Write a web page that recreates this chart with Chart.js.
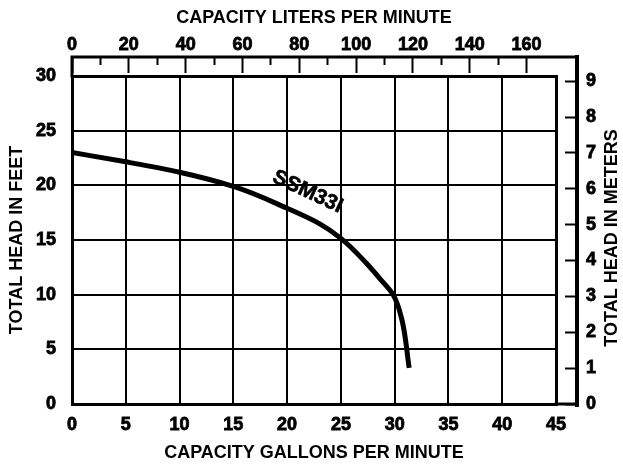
<!DOCTYPE html>
<html><head><meta charset="utf-8">
<script src="https://cdn.jsdelivr.net/npm/chart.js@4.4.1/dist/chart.umd.min.js"></script>
<style>html,body{margin:0;padding:0;background:#fff}#wrap{width:623px;height:464px}</style>
</head><body><div id="wrap"><canvas id="c" width="623" height="464"></canvas></div>
<script>
// ---- data ----
const flowGpm = [0, 5, 10, 15, 20, 23, 25, 27.35, 28.6, 29.86, 30.65, 31.35];
const headFt  = [23, 22.15, 21.2, 19.9, 17.9, 16.5, 15.15, 12.9, 11.5, 10.0, 7.8, 3.3];
const gpmTicks   = [0, 5, 10, 15, 20, 25, 30, 35, 40, 45];
const feetTicks  = [0, 5, 10, 15, 20, 25, 30];
const literTicks = [0, 10, 20, 30, 40, 50, 60, 70, 80, 90, 100, 110, 120, 130, 140, 150, 160];
const meterTicks = [0, 1, 2, 3, 4, 5, 6, 7, 8, 9];
const modelName = 'SSM33I';
const titles = {
  bottom: 'CAPACITY GALLONS PER MINUTE',
  top: 'CAPACITY LITERS PER MINUTE',
  left: 'TOTAL HEAD IN FEET',
  right: 'TOTAL HEAD IN METERS'
};
const L_PER_GAL = 3.785411784;
const M_PER_FT = 0.3048;

// ---- styling ----
const FAM = '"Liberation Sans", Arial, Helvetica, sans-serif';
const tickFont = {family: FAM, size: 18, weight: 'bold'};
const titleFont = {family: FAM, size: 18, weight: 'bold'};
const TOP_STRIP = 19, RIGHT_STRIP = 21;
const tickText = {color: '#000', font: tickFont, textStrokeColor: '#000', textStrokeWidth: 0.8, autoSkip: false, maxRotation: 0};

const frame = {
  id: 'frame',
  afterDraw(chart) {
    const ctx = chart.ctx, a = chart.chartArea;
    const top = a.top - TOP_STRIP, right = a.right + RIGHT_STRIP;
    ctx.save();
    ctx.strokeStyle = '#000';
    ctx.lineCap = 'square';
    ctx.lineWidth = 3;
    ctx.beginPath();
    ctx.moveTo(a.left, a.top); ctx.lineTo(a.left, top);
    ctx.lineTo(right, top);
    ctx.moveTo(a.right, a.bottom); ctx.lineTo(right, a.bottom);
    ctx.stroke();
    ctx.lineWidth = 4;
    ctx.beginPath();
    ctx.moveTo(right, top); ctx.lineTo(right, a.bottom + 1);
    ctx.stroke();
    // right title (reads bottom to top)
    ctx.fillStyle = '#000';
    ctx.font = 'bold 18px ' + FAM;
    ctx.textAlign = 'center'; ctx.textBaseline = 'middle';
    ctx.translate(612, (a.top + a.bottom) / 2 - 2);
    ctx.rotate(-Math.PI / 2);
    ctx.fillText(titles.right, 0, 0);
    ctx.restore();
    // curve label along the curve
    const xs = chart.scales.x, ys = chart.scales.y;
    ctx.save();
    ctx.fillStyle = '#000';
    ctx.strokeStyle = '#000';
    ctx.lineWidth = 0.6;
    ctx.font = 'bold 21px ' + FAM;
    ctx.textAlign = 'center'; ctx.textBaseline = 'middle';
    ctx.translate(xs.getPixelForValue(21.9), ys.getPixelForValue(19.4));
    ctx.rotate(25 * Math.PI / 180);
    ctx.fillText(modelName, 0, 0);
    ctx.strokeText(modelName, 0, 0);
    ctx.restore();
  }
};

new Chart(document.getElementById('c'), {
  type: 'scatter',
  data: {
    datasets: [{
      data: flowGpm.map((g, i) => ({x: g, y: headFt[i]})),
      showLine: true,
      borderColor: '#000',
      borderWidth: 5,
      borderCapStyle: 'butt',
      borderJoinStyle: 'round',
      pointRadius: 0,
      cubicInterpolationMode: 'monotone',
      xAxisID: 'x', yAxisID: 'y'
    }]
  },
  options: {
    indexAxis: 'y',
    responsive: false,
    devicePixelRatio: 1,
    animation: false,
    layout: {padding: 0},
    plugins: {legend: {display: false}, tooltip: {enabled: false}},
    scales: {
      x: {
        type: 'linear', position: 'bottom', min: 0, max: 45,
        afterBuildTicks: s => { s.ticks = gpmTicks.map(v => ({value: v})); },
        afterFit: s => { s.height = 60; },
        grid: {color: '#000', lineWidth: c => (c.index === 0 || c.index === gpmTicks.length - 1) ? 3 : 2, drawTicks: false},
        border: {color: '#000', width: 3},
        ticks: {...tickText, padding: 10},
        title: {display: true, text: titles.bottom, color: '#000', font: titleFont, padding: {top: 0, bottom: 0}}
      },
      x2: {
        type: 'linear', position: 'top', axis: 'x', min: 0, max: 45 * L_PER_GAL,
        afterBuildTicks: s => { s.ticks = literTicks.map(v => ({value: v})); },
        afterFit: s => { s.height = 76; },
        grid: {
          drawOnChartArea: false, color: '#000', tickColor: '#000', tickWidth: 2,
          tickLength: TOP_STRIP,
          tickBorderDash: c => (c.tick && c.tick.value % 20 === 0) ? [16, 100] : [8, 100]
        },
        border: {color: '#000', width: 3},
        ticks: {...tickText, padding: 1, callback: v => (v % 20 === 0 ? String(v) : '')},
        title: {display: true, text: titles.top, color: '#000', font: titleFont, padding: {top: 7, bottom: 0}}
      },
      y: {
        type: 'linear', position: 'left', min: 0, max: 30,
        afterBuildTicks: s => { s.ticks = feetTicks.map(v => ({value: v})); },
        afterFit: s => { s.width = 72; },
        grid: {color: '#000', lineWidth: c => (c.index === 0 || c.index === feetTicks.length - 1) ? 3 : 2, drawTicks: false},
        border: {color: '#000', width: 3},
        ticks: {...tickText, padding: 16},
        title: {display: true, text: titles.left, color: '#000', font: titleFont, padding: {top: 6, bottom: 0}}
      },
      y2: {
        type: 'linear', position: 'right', axis: 'y', min: 0, max: 30 * M_PER_FT,
        afterBuildTicks: s => { s.ticks = meterTicks.map(v => ({value: v})); },
        afterFit: s => { s.width = 67; },
        grid: {
          drawOnChartArea: false, color: '#000', tickColor: '#000', tickWidth: 2,
          tickLength: RIGHT_STRIP,
          tickBorderDash: [0, 7, 14, 100]
        },
        border: {color: '#000', width: 3},
        ticks: {...tickText, padding: 9}
      }
    }
  },
  plugins: [frame]
});
</script>
</body></html>
